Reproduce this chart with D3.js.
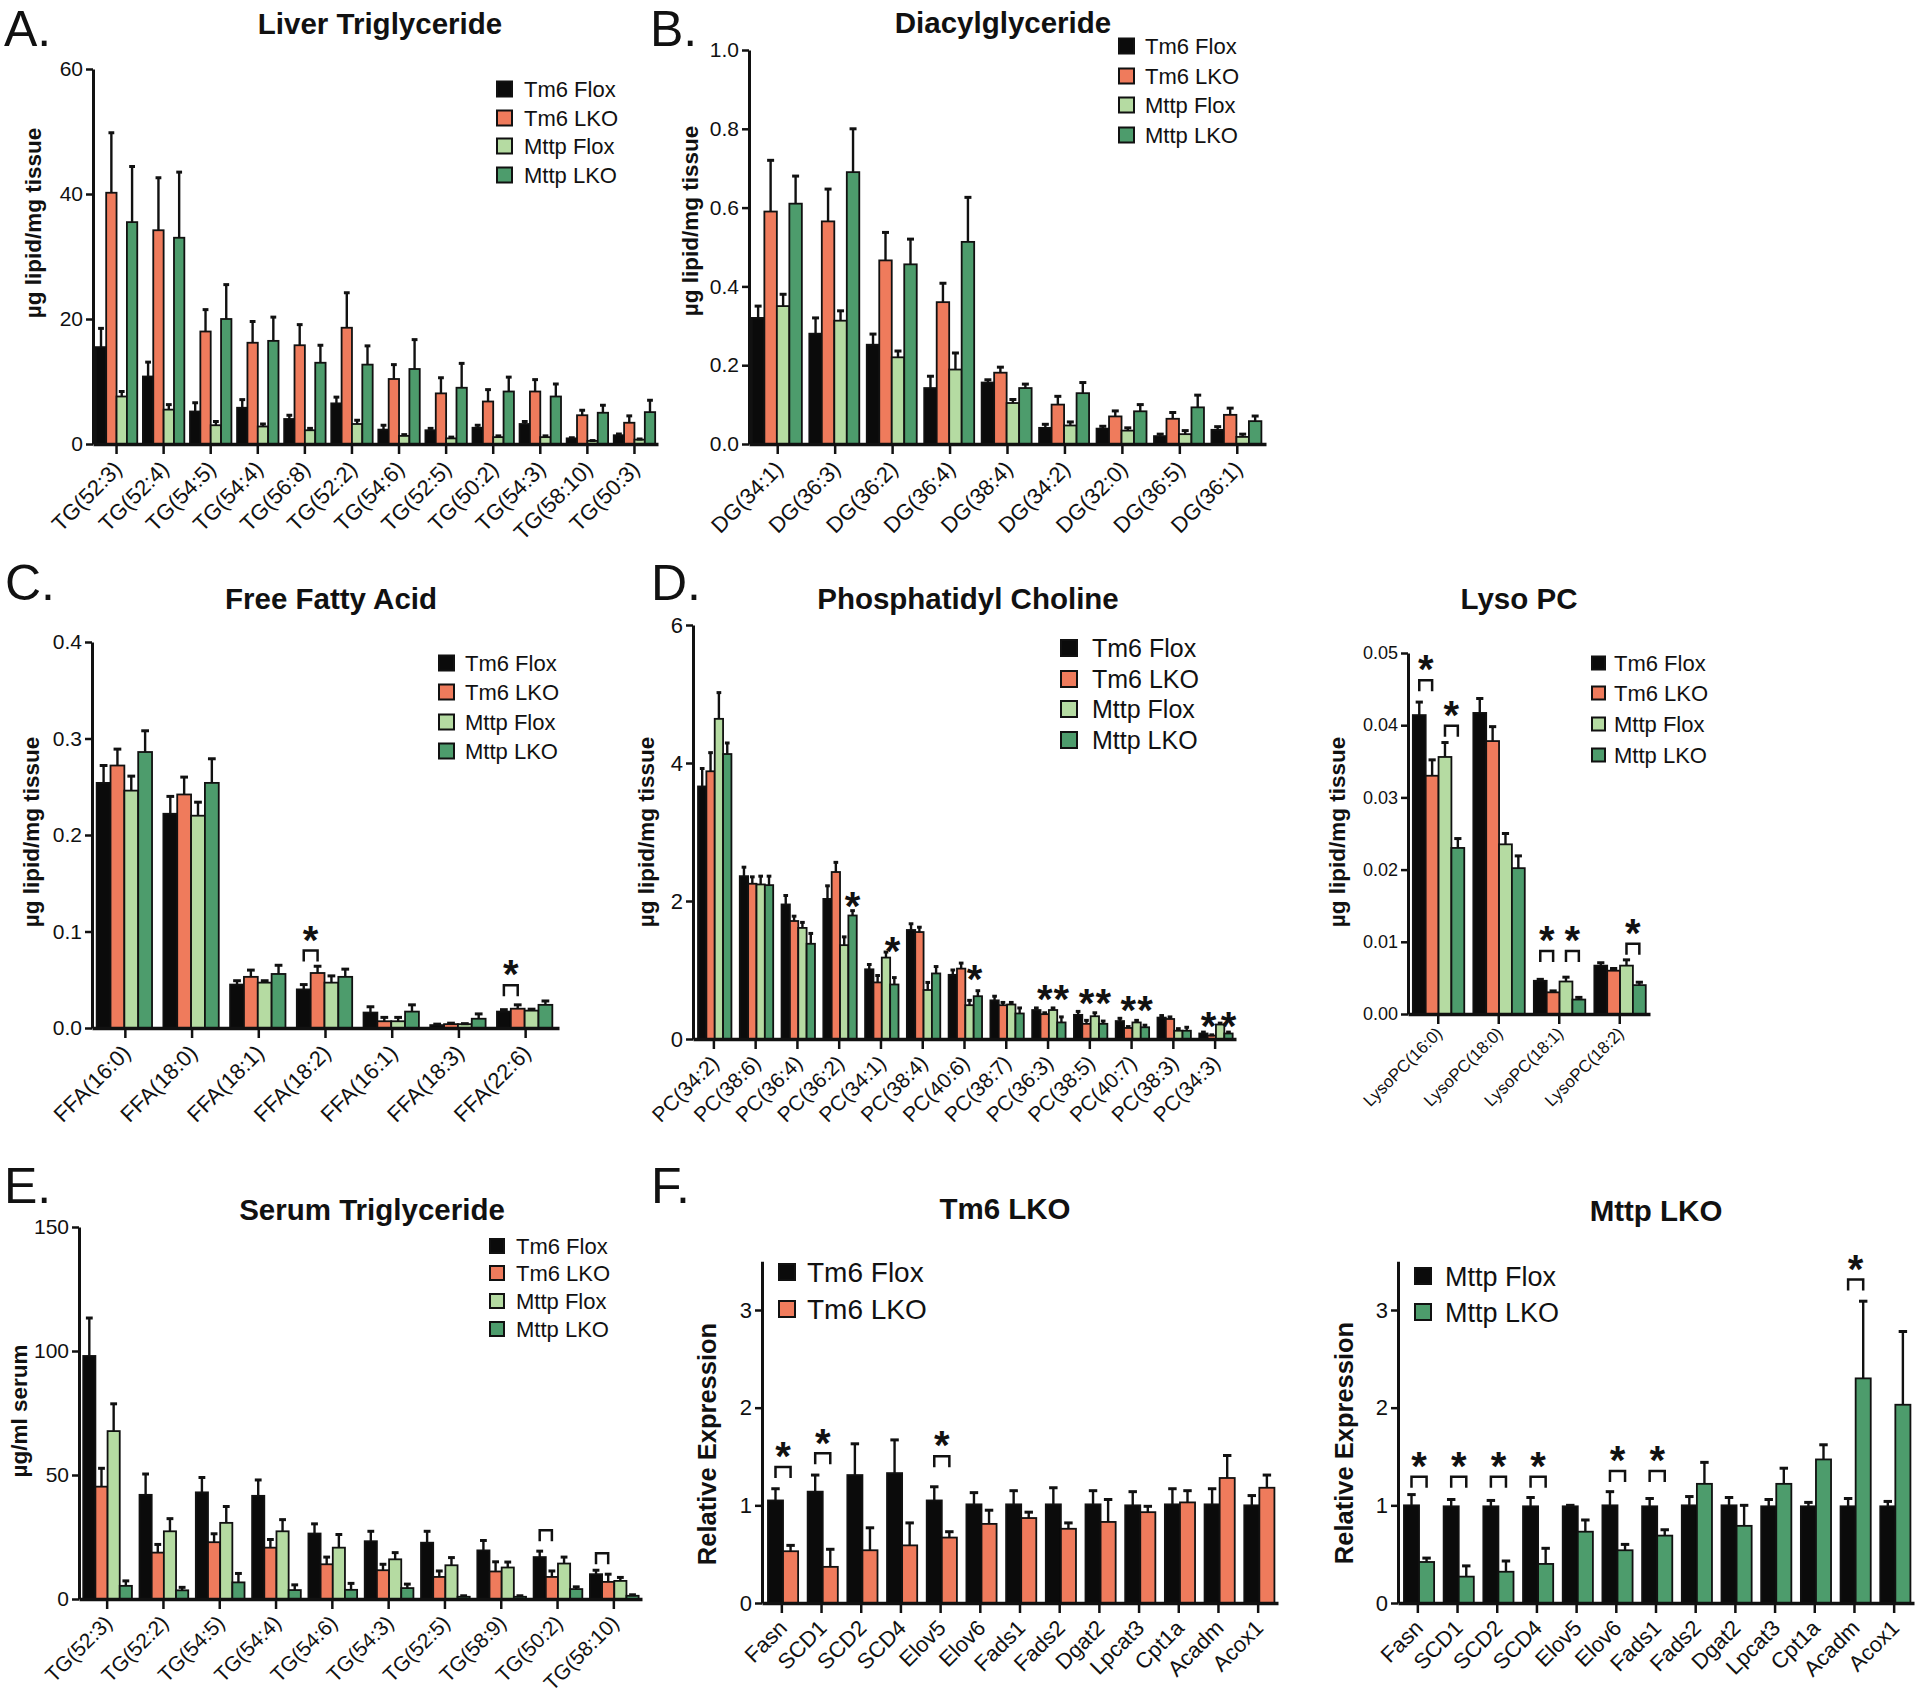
<!DOCTYPE html>
<html><head><meta charset="utf-8">
<script src="https://cdn.jsdelivr.net/npm/d3@7"></script>
<style>
body{margin:0;background:#fff}
svg{display:block}
text{font-family:"Liberation Sans",Arial,Helvetica,sans-serif;fill:#111}
</style>
</head><body>
<svg id="chart" width="1920" height="1697"></svg>
<script>
// ---------------- DATA ----------------
const series4 = ["Tm6 Flox", "Tm6 LKO", "Mttp Flox", "Mttp LKO"];
const colors4 = ["#0b0b0b", "#ef7b5c", "#b5dba2", "#4d9c6c"];

// A. Liver Triglyceride (µg lipid/mg tissue)
const liverTGCats = ["TG(52:3)","TG(52:4)","TG(54:5)","TG(54:4)","TG(56:8)","TG(52:2)","TG(54:6)","TG(52:5)","TG(50:2)","TG(54:3)","TG(58:10)","TG(50:3)"];
const liverTGMean = [
  [15.5, 10.8, 5.2, 5.8, 4.0, 6.5, 2.3, 2.2, 2.6, 3.2, 0.9, 1.4],
  [40.2, 34.2, 18.0, 16.2, 15.8, 18.6, 10.4, 8.1, 6.8, 8.4, 4.6, 3.4],
  [7.6, 5.5, 3.0, 2.8, 2.2, 3.2, 1.3, 0.9, 1.1, 1.1, 0.5, 0.7],
  [35.5, 33.0, 20.0, 16.5, 13.0, 12.7, 12.0, 9.0, 8.4, 7.6, 5.0, 5.1]
];
const liverTGErr = [
  [3.0, 2.3, 1.4, 1.3, 0.6, 1.0, 0.7, 0.3, 0.4, 0.4, 0.1, 0.2],
  [9.6, 8.4, 3.5, 3.4, 3.3, 5.6, 2.3, 2.5, 1.9, 1.9, 0.8, 1.1],
  [0.8, 0.8, 0.6, 0.4, 0.3, 0.6, 0.2, 0.2, 0.2, 0.2, 0.05, 0.1],
  [8.9, 10.5, 5.5, 3.8, 2.8, 3.0, 4.7, 3.9, 2.3, 2.0, 1.2, 1.9]
];

// B. Diacylglyceride
const dgCats = ["DG(34:1)","DG(36:3)","DG(36:2)","DG(36:4)","DG(38:4)","DG(34:2)","DG(32:0)","DG(36:5)","DG(36:1)"];
const dgMean = [
  [0.32, 0.28, 0.252, 0.142, 0.156, 0.041, 0.039, 0.020, 0.036],
  [0.59, 0.565, 0.466, 0.36, 0.181, 0.10, 0.07, 0.064, 0.074],
  [0.35, 0.313, 0.22, 0.189, 0.104, 0.047, 0.034, 0.025, 0.018],
  [0.61, 0.69, 0.456, 0.513, 0.142, 0.129, 0.083, 0.093, 0.058]
];
const dgErr = [
  [0.03, 0.04, 0.027, 0.03, 0.007, 0.009, 0.006, 0.005, 0.008],
  [0.13, 0.082, 0.071, 0.048, 0.014, 0.021, 0.014, 0.016, 0.017],
  [0.03, 0.025, 0.016, 0.042, 0.009, 0.009, 0.007, 0.009, 0.007],
  [0.07, 0.11, 0.064, 0.113, 0.01, 0.027, 0.017, 0.031, 0.013]
];

// C. Free Fatty Acid
const ffaCats = ["FFA(16:0)","FFA(18:0)","FFA(18:1)","FFA(18:2)","FFA(16:1)","FFA(18:3)","FFA(22:6)"];
const ffaMean = [
  [0.254, 0.222, 0.045, 0.040, 0.016, 0.003, 0.017],
  [0.272, 0.242, 0.053, 0.057, 0.007, 0.004, 0.020],
  [0.246, 0.220, 0.047, 0.047, 0.007, 0.004, 0.018],
  [0.286, 0.254, 0.056, 0.053, 0.017, 0.0096, 0.024]
];
const ffaErr = [
  [0.018, 0.018, 0.004, 0.005, 0.006, 0.001, 0.002],
  [0.017, 0.018, 0.007, 0.007, 0.004, 0.001, 0.004],
  [0.015, 0.014, 0.002, 0.007, 0.004, 0.0005, 0.0015],
  [0.022, 0.025, 0.009, 0.008, 0.007, 0.005, 0.004]
];
const ffaBrackets = [
  {cat: "FFA(18:2)", a: 0, b: 1, y: 0.069, star: true},
  {cat: "FFA(22:6)", a: 0, b: 1, y: 0.033, star: true}
];

// D. Phosphatidyl Choline
const pcCats = ["PC(34:2)","PC(38:6)","PC(36:4)","PC(36:2)","PC(34:1)","PC(38:4)","PC(40:6)","PC(38:7)","PC(36:3)","PC(38:5)","PC(40:7)","PC(38:3)","PC(34:3)"];
const pcMean = [
  [3.66, 2.36, 1.95, 2.03, 1.01, 1.58, 0.93, 0.56, 0.42, 0.35, 0.26, 0.31, 0.08],
  [3.88, 2.25, 1.71, 2.42, 0.82, 1.55, 1.02, 0.49, 0.36, 0.22, 0.16, 0.29, 0.05],
  [4.64, 2.24, 1.61, 1.36, 1.18, 0.71, 0.49, 0.50, 0.42, 0.33, 0.24, 0.12, 0.21],
  [4.13, 2.23, 1.38, 1.79, 0.79, 0.95, 0.62, 0.37, 0.24, 0.22, 0.17, 0.12, 0.08]
];
const pcErr = [
  [0.26, 0.13, 0.13, 0.19, 0.07, 0.09, 0.07, 0.06, 0.03, 0.05, 0.04, 0.03, 0.02],
  [0.27, 0.10, 0.07, 0.14, 0.10, 0.07, 0.08, 0.04, 0.02, 0.05, 0.02, 0.03, 0.01],
  [0.38, 0.12, 0.08, 0.12, 0.08, 0.11, 0.07, 0.03, 0.03, 0.05, 0.03, 0.03, 0.02],
  [0.16, 0.13, 0.15, 0.07, 0.10, 0.10, 0.08, 0.08, 0.08, 0.04, 0.03, 0.05, 0.02]
];
const pcStars = [
  {cat: "PC(36:2)", idx: 3, y: 2.06},
  {cat: "PC(34:1)", idx: 2.8, y: 1.41},
  {cat: "PC(40:6)", idx: 2.6, y: 1.0},
  {cat: "PC(36:3)", idx: 1, y: 0.71}, {cat: "PC(36:3)", idx: 3, y: 0.71},
  {cat: "PC(38:5)", idx: 1, y: 0.66}, {cat: "PC(38:5)", idx: 3, y: 0.66},
  {cat: "PC(40:7)", idx: 1, y: 0.56}, {cat: "PC(40:7)", idx: 3, y: 0.56},
  {cat: "PC(34:3)", idx: 0.6, y: 0.32}, {cat: "PC(34:3)", idx: 3, y: 0.32}
];

// Lyso PC
const lysoCats = ["LysoPC(16:0)","LysoPC(18:0)","LysoPC(18:1)","LysoPC(18:2)"];
const lysoMean = [
  [0.0414, 0.0417, 0.0046, 0.0067],
  [0.0330, 0.0378, 0.0030, 0.0060],
  [0.0356, 0.0235, 0.0045, 0.0067],
  [0.0230, 0.0202, 0.0020, 0.0040]
];
const lysoErr = [
  [0.0018, 0.0020, 0.0002, 0.0004],
  [0.0022, 0.0020, 0.0002, 0.0003],
  [0.0020, 0.0015, 0.0006, 0.0008],
  [0.0013, 0.0017, 0.0003, 0.0004]
];
const lysoBrackets = [
  {cat: "LysoPC(16:0)", a: 0, b: 1, y: 0.0447, star: true},
  {cat: "LysoPC(16:0)", a: 2, b: 3, y: 0.0384, star: true},
  {cat: "LysoPC(18:1)", a: 0, b: 1, y: 0.0072, star: true},
  {cat: "LysoPC(18:1)", a: 2, b: 3, y: 0.0072, star: true},
  {cat: "LysoPC(18:2)", a: 2, b: 3, y: 0.0082, star: true}
];

// E. Serum Triglyceride (µg/ml serum)
const serumCats = ["TG(52:3)","TG(52:2)","TG(54:5)","TG(54:4)","TG(54:6)","TG(54:3)","TG(52:5)","TG(58:9)","TG(50:2)","TG(58:10)"];
const serumMean = [
  [98, 42, 43, 41.6, 26.4, 23.3, 22.7, 19.6, 16.9, 10],
  [45.3, 18.7, 22.9, 20.7, 14, 11.6, 8.9, 11.1, 8.9, 6.9],
  [67.7, 27.3, 30.7, 27.3, 20.7, 16, 13.6, 12.7, 14.3, 7.3],
  [5.3, 3.5, 6.7, 3.6, 3.7, 4.4, 0.9, 0.9, 4, 1.3]
];
const serumErr = [
  [15.3, 8.4, 6, 6.4, 3.9, 4, 4.6, 4, 2.4, 1.6],
  [7.4, 3.3, 3.4, 3.3, 2.9, 2.4, 2.4, 3.9, 2.4, 3.1],
  [11, 5.1, 6.6, 4.7, 5.3, 2.7, 3.1, 2.2, 2.6, 1.4],
  [2, 1.2, 3.6, 2.1, 2.6, 1.6, 0.4, 0.4, 0.9, 0.4]
];
const serumBrackets = [
  {cat: "TG(50:2)", a: 0, b: 1, y: 23.3, star: false},
  {cat: "TG(58:10)", a: 0, b: 1, y: 14, star: false}
];

// F. Relative expression
const geneCats = ["Fasn","SCD1","SCD2","SCD4","Elov5","Elov6","Fads1","Fads2","Dgat2","Lpcat3","Cpt1a","Acadm","Acox1"];
const tm6Series = ["Tm6 Flox", "Tm6 LKO"];
const tm6Mean = [
  [1.05, 1.14, 1.31, 1.33, 1.05, 1.01, 1.01, 1.01, 1.01, 1.0, 1.01, 1.01, 1.0],
  [0.53, 0.37, 0.54, 0.59, 0.67, 0.81, 0.87, 0.76, 0.83, 0.93, 1.03, 1.28, 1.18]
];
const tm6Err = [
  [0.12, 0.17, 0.32, 0.34, 0.14, 0.12, 0.14, 0.17, 0.14, 0.14, 0.16, 0.16, 0.10],
  [0.06, 0.18, 0.23, 0.23, 0.06, 0.14, 0.06, 0.06, 0.23, 0.06, 0.12, 0.23, 0.13]
];
const tm6Brackets = [
  {cat: "Fasn", a: 0, b: 1, y: 1.28, star: true},
  {cat: "SCD1", a: 0, b: 1, y: 1.42, star: true},
  {cat: "Elov5", a: 0, b: 1, y: 1.39, star: true}
];
const mttpSeries = ["Mttp Flox", "Mttp LKO"];
const mttpMean = [
  [1.0, 0.99, 0.99, 0.99, 0.99, 1.0, 0.99, 1.0, 1.0, 0.99, 0.99, 0.99, 0.99],
  [0.42, 0.27, 0.32, 0.40, 0.73, 0.54, 0.69, 1.22, 0.79, 1.22, 1.47, 2.30, 2.03]
];
const mttpErr = [
  [0.11, 0.07, 0.06, 0.09, 0.01, 0.14, 0.08, 0.09, 0.08, 0.07, 0.04, 0.08, 0.05],
  [0.04, 0.11, 0.11, 0.16, 0.12, 0.06, 0.06, 0.22, 0.21, 0.16, 0.15, 0.79, 0.75]
];
const mttpBrackets = [
  {cat: "Fasn", a: 0, b: 1, y: 1.18, star: true},
  {cat: "SCD1", a: 0, b: 1, y: 1.18, star: true},
  {cat: "SCD2", a: 0, b: 1, y: 1.18, star: true},
  {cat: "SCD4", a: 0, b: 1, y: 1.18, star: true},
  {cat: "Elov6", a: 0, b: 1, y: 1.24, star: true},
  {cat: "Fads1", a: 0, b: 1, y: 1.24, star: true},
  {cat: "Acadm", a: 0, b: 1, y: 3.20, star: true}
];

// ---------------- DRAWING ----------------
const svg = d3.select("#chart");
const INK = "#111";
const TITLE_FS = 29.5;

function drawPanel(p) {
  const g = svg.append("g");
  const x0 = d3.scaleBand().domain(p.cats).range([p.left, p.right]).paddingInner(0).paddingOuter(0);
  const bw = x0.bandwidth();
  const x1 = d3.scaleBand().domain(d3.range(p.series.length)).range([bw * p.inner[0], bw * p.inner[1]]).padding(0);
  const y = d3.scaleLinear().domain([0, p.ymax]).range([p.bottom, p.top]);
  const barW = x1.bandwidth();

  // bars
  p.series.forEach((s, si) => {
    const rows = p.cats.map((c, ci) => ({c, m: p.means[si][ci], e: p.errs[si][ci]}));
    const sg = g.append("g");
    sg.selectAll("rect").data(rows).join("rect")
      .attr("x", d => x0(d.c) + x1(si))
      .attr("y", d => y(d.m))
      .attr("width", barW)
      .attr("height", d => p.bottom - y(d.m))
      .attr("fill", p.colors[si])
      .attr("stroke", INK)
      .attr("stroke-width", 1.8);
    sg.selectAll("line.err").data(rows).join("line").attr("class", "err")
      .attr("x1", d => x0(d.c) + x1(si) + barW / 2)
      .attr("x2", d => x0(d.c) + x1(si) + barW / 2)
      .attr("y1", d => y(d.m))
      .attr("y2", d => y(d.m + d.e))
      .attr("stroke", INK).attr("stroke-width", 2.4);
    sg.selectAll("line.cap").data(rows).join("line").attr("class", "cap")
      .attr("x1", d => x0(d.c) + x1(si) + barW * 0.22)
      .attr("x2", d => x0(d.c) + x1(si) + barW * 0.78)
      .attr("y1", d => y(d.m + d.e))
      .attr("y2", d => y(d.m + d.e))
      .attr("stroke", INK).attr("stroke-width", 3);
  });

  // y axis
  const ya = g.append("g").attr("transform", `translate(${p.left},0)`)
    .call(d3.axisLeft(y).tickValues(p.ticks).tickFormat(p.fmt).tickSize(7).tickSizeOuter(0).tickPadding(3));
  ya.select(".domain").attr("stroke", INK).attr("stroke-width", 3);
  ya.selectAll(".tick line").attr("stroke", INK).attr("stroke-width", 2.5);
  ya.selectAll(".tick text").attr("font-size", p.tickFs).attr("font-family", null).attr("fill", INK);

  // x axis
  const xa = g.append("g").attr("transform", `translate(0,${p.bottom})`)
    .call(d3.axisBottom(x0).tickSize(10).tickSizeOuter(0));
  xa.select(".domain").attr("stroke", INK).attr("stroke-width", 3.5);
  xa.selectAll(".tick line").attr("stroke", INK).attr("stroke-width", 2.5);
  xa.selectAll(".tick text")
    .attr("font-size", p.xFs).attr("font-family", null).attr("fill", INK)
    .attr("x", null).attr("y", null).attr("dy", null)
    .attr("text-anchor", "end")
    .attr("transform", `translate(${0.3 * p.xFs},${1.2 * p.xFs}) rotate(-45)`);

  // y label
  g.append("text")
    .attr("transform", `translate(${p.ylab[0]},${p.ylab[1]}) rotate(-90)`)
    .attr("text-anchor", "middle").attr("dy", "0.35em")
    .attr("font-weight", "bold").attr("font-size", p.ylabFs)
    .text(p.ylabel);

  // title
  g.append("text").attr("x", p.title[0]).attr("y", p.title[1]).attr("dy", "0.36em")
    .attr("text-anchor", "middle").attr("font-weight", "bold").attr("font-size", TITLE_FS)
    .text(p.titleText);

  // legend
  const L = p.legend;
  p.series.forEach((s, si) => {
    g.append("rect").attr("x", L.x).attr("y", L.rows[si] - L.size / 2)
      .attr("width", L.size).attr("height", L.size)
      .attr("fill", p.colors[si]).attr("stroke", INK).attr("stroke-width", 2);
    g.append("text").attr("x", L.tx).attr("y", L.rows[si]).attr("dy", "0.36em")
      .attr("font-size", L.fs).text(s);
  });

  // brackets
  const starFs = 40;
  (p.brackets || []).forEach(b => {
    const xa_ = x0(b.cat) + x1(b.a) + barW / 2;
    const xb_ = x0(b.cat) + x1(b.b) + barW / 2;
    const yb = y(b.y);
    g.append("path")
      .attr("d", `M${xa_},${yb}V${yb - 11}H${xb_}V${yb}`)
      .attr("fill", "none").attr("stroke", INK).attr("stroke-width", 2.5);
    if (b.star) {
      g.append("text").attr("x", (xa_ + xb_) / 2).attr("y", yb - 11 - 20 + 0.58 * starFs)
        .attr("text-anchor", "middle").attr("font-weight", "bold").attr("font-size", starFs)
        .text("*");
    }
  });
  // free stars
  (p.stars || []).forEach(st => {
    const cx = x0(st.cat) + x1(0) + x1.step() * (st.idx + 0.5);
    g.append("text").attr("x", cx).attr("y", y(st.y) + 0.58 * starFs)
      .attr("text-anchor", "middle").attr("font-weight", "bold").attr("font-size", starFs)
      .text("*");
  });
}

const f1 = d3.format(".1f"), f0 = d3.format("d"), f2 = d3.format(".2f");

drawPanel({cats: liverTGCats, series: series4, colors: colors4, means: liverTGMean, errs: liverTGErr,
  left: 93, right: 658, top: 69, bottom: 444, ymax: 60, ticks: [0, 20, 40, 60], fmt: f0, inner: [0.06, 0.94],
  tickFs: 21, xFs: 22, ylabel: "µg lipid/mg tissue", ylab: [33, 223], ylabFs: 22.5,
  title: [380, 23], titleText: "Liver Triglyceride",
  legend: {x: 497, size: 15, rows: [89, 118, 146, 175], tx: 524, fs: 22}});

drawPanel({cats: dgCats, series: series4, colors: colors4, means: dgMean, errs: dgErr,
  left: 749, right: 1266, top: 50, bottom: 444, ymax: 1.0, ticks: [0, 0.2, 0.4, 0.6, 0.8, 1.0], fmt: f1, inner: [0.05, 0.92],
  tickFs: 21, xFs: 22, ylabel: "µg lipid/mg tissue", ylab: [690, 221], ylabFs: 22.5,
  title: [1003, 22], titleText: "Diacylglyceride",
  legend: {x: 1119, size: 15, rows: [46, 76, 105, 135], tx: 1145, fs: 22}});

drawPanel({cats: ffaCats, series: series4, colors: colors4, means: ffaMean, errs: ffaErr,
  left: 92, right: 559, top: 642, bottom: 1028, ymax: 0.4, ticks: [0, 0.1, 0.2, 0.3, 0.4], fmt: f1, inner: [0.07, 0.9],
  tickFs: 21, xFs: 22, ylabel: "µg lipid/mg tissue", ylab: [31, 832], ylabFs: 22.5,
  title: [331, 598], titleText: "Free Fatty Acid", brackets: ffaBrackets,
  legend: {x: 439, size: 15, rows: [663, 692, 722, 751], tx: 465, fs: 22}});

drawPanel({cats: pcCats, series: series4, colors: colors4, means: pcMean, errs: pcErr,
  left: 693, right: 1236, top: 625, bottom: 1039, ymax: 6, ticks: [0, 2, 4, 6], fmt: f0, inner: [0.12, 0.92],
  tickFs: 22, xFs: 21, ylabel: "µg lipid/mg tissue", ylab: [646, 832], ylabFs: 22.5,
  title: [968, 598], titleText: "Phosphatidyl Choline", stars: pcStars,
  legend: {x: 1061, size: 16, rows: [648, 679, 709, 740], tx: 1092, fs: 25}});

drawPanel({cats: lysoCats, series: series4, colors: colors4, means: lysoMean, errs: lysoErr,
  left: 1408, right: 1650, top: 653, bottom: 1014, ymax: 0.05, ticks: [0, 0.01, 0.02, 0.03, 0.04, 0.05], fmt: f2, inner: [0.08, 0.93],
  tickFs: 18, xFs: 17, ylabel: "µg lipid/mg tissue", ylab: [1337, 832], ylabFs: 22.5,
  title: [1519, 598], titleText: "Lyso PC", brackets: lysoBrackets,
  legend: {x: 1592, size: 13, rows: [663, 693, 724, 755], tx: 1614, fs: 22}});

drawPanel({cats: serumCats, series: series4, colors: colors4, means: serumMean, errs: serumErr,
  left: 79, right: 642, top: 1227, bottom: 1599, ymax: 150, ticks: [0, 50, 100, 150], fmt: f0, inner: [0.075, 0.94],
  tickFs: 21, xFs: 21, ylabel: "µg/ml serum", ylab: [19, 1411], ylabFs: 22.5,
  title: [372, 1209], titleText: "Serum Triglyceride", brackets: serumBrackets,
  legend: {x: 490, size: 14, rows: [1246, 1273, 1301, 1329], tx: 516, fs: 22}});

drawPanel({cats: geneCats, series: tm6Series, colors: [colors4[0], colors4[1]], means: tm6Mean, errs: tm6Err,
  left: 762, right: 1278, top: 1603 - 3.5 * (293 / 3), bottom: 1603, ymax: 3.5, ticks: [0, 1, 2, 3], fmt: f0, inner: [0.15, 0.91],
  tickFs: 22, xFs: 22, ylabel: "Relative Expression", ylab: [707, 1444], ylabFs: 25.5,
  title: [1005, 1208], titleText: "Tm6 LKO", brackets: tm6Brackets,
  legend: {x: 779, size: 16, rows: [1272, 1309], tx: 807, fs: 28}});

drawPanel({cats: geneCats, series: mttpSeries, colors: [colors4[0], colors4[3]], means: mttpMean, errs: mttpErr,
  left: 1398, right: 1914, top: 1603 - 3.5 * (293 / 3), bottom: 1603, ymax: 3.5, ticks: [0, 1, 2, 3], fmt: f0, inner: [0.15, 0.91],
  tickFs: 22, xFs: 22, ylabel: "Relative Expression", ylab: [1344, 1443], ylabFs: 25.5,
  title: [1656, 1210], titleText: "Mttp LKO", brackets: mttpBrackets,
  legend: {x: 1415, size: 16, rows: [1276, 1312], tx: 1445, fs: 27}});

// panel letters
const letters = [["A.", 4, 46], ["B.", 650, 46], ["C.", 5, 600], ["D.", 651, 600], ["E.", 4, 1203], ["F.", 651, 1203]];
svg.selectAll("text.letter").data(letters).join("text").attr("class", "letter")
  .attr("x", d => d[1]).attr("y", d => d[2])
  .attr("font-size", 50).text(d => d[0]);
</script>
</body></html>
